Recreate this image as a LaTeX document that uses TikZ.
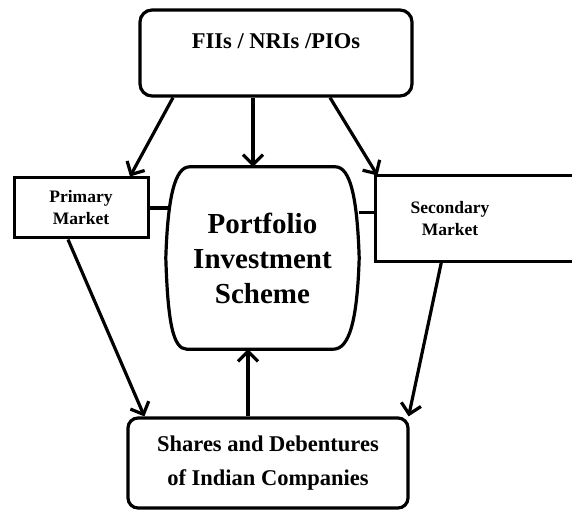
\documentclass[tikz,border=0pt]{standalone}
\usepackage{fontspec}
\setmainfont{Liberation Serif}
\usetikzlibrary{arrows.meta, positioning, calc}
\tikzset{
  roundbox/.style={rectangle, rounded corners=12pt, draw, line width=3.2pt, align=center,
              inner sep=0pt, font=\bfseries\fontsize{22.5}{34}\selectfont},
  plainbox/.style={rectangle, draw, line width=3pt, align=center,
              inner sep=0pt, font=\bfseries\fontsize{17.5}{22}\selectfont},
  flow/.style={-{Straight Barb[length=10pt, width=20pt]}, line width=3.2pt},
  link/.style={line width=3.2pt},
}

\begin{document}
\begin{tikzpicture}[x=1pt, y=-1pt]
    \useasboundingbox (0,0) rectangle (572,510);

    \node[roundbox, anchor=base, minimum width=272pt, text height=39pt, text depth=47pt]
        (fii) at (276,49) {FIIs / NRIs /PIOs};
    \node[plainbox, minimum width=134pt, minimum height=60pt] (prim) at (81,208) {Primary\\Market};
    \node[plainbox, draw=none, text width=146pt, minimum height=83pt] (sec) at (450,218.5) {Secondary\\Market};
    \draw[link] (sec.north west) rectangle ([xshift=80pt]sec.south east);

    \node[align=center, inner sep=0pt, minimum width=193pt, minimum height=182pt,
          font=\bfseries\fontsize{29}{35}\selectfont] (pis) at (262.5,258) {Portfolio\\Investment\\Scheme};
    % barrel outline round the scheme
    \draw[link] ([xshift=24pt]pis.north west) -- ([xshift=-24pt]pis.north east)
        .. controls ([xshift=-9pt]pis.north east) and ([xshift=-2pt, yshift=-30pt]pis.north east) .. (pis.east)
        .. controls ([xshift=-2pt, yshift=28pt]pis.south east) and ([xshift=-10pt]pis.south east) .. ([xshift=-26pt]pis.south east)
        -- ([xshift=21pt]pis.south west)
        .. controls ([xshift=7pt]pis.south west) and ([xshift=2pt, yshift=28pt]pis.south west) .. (pis.west)
        .. controls ([xshift=2pt, yshift=-30pt]pis.north west) and ([xshift=9pt]pis.north west) .. ([xshift=24pt]pis.north west)
        -- cycle;

    \node[roundbox, rounded corners=10pt, minimum width=280pt, minimum height=90pt]
        (shr) at (268,463) {Shares and Debentures\\of Indian Companies};

    \draw[flow] ([xshift=-103pt]fii.south) -- ([xshift=49pt]prim.north);
    \draw[flow] ([xshift=-23pt]fii.south) -- ([xshift=-9.5pt]pis.north);
    \draw[flow] ([xshift=54pt]fii.south) -- ([xshift=2pt]sec.north west);
    \draw[flow] ([xshift=-13pt]prim.south) -- ([xshift=18pt]shr.north west);
    \draw[flow] ([xshift=66pt]sec.south west) -- ([xshift=-1pt]shr.north east);
    \draw[flow] ([xshift=-20pt]shr.north) -- ([xshift=-14.5pt]pis.south);

    \draw[link] (prim.east) -- ([xshift=2pt]prim.east -| pis.west);
    \draw[link] ([yshift=6pt]pis.east |- sec.west) -- ([yshift=6pt]sec.west);
\end{tikzpicture}
\end{document}
